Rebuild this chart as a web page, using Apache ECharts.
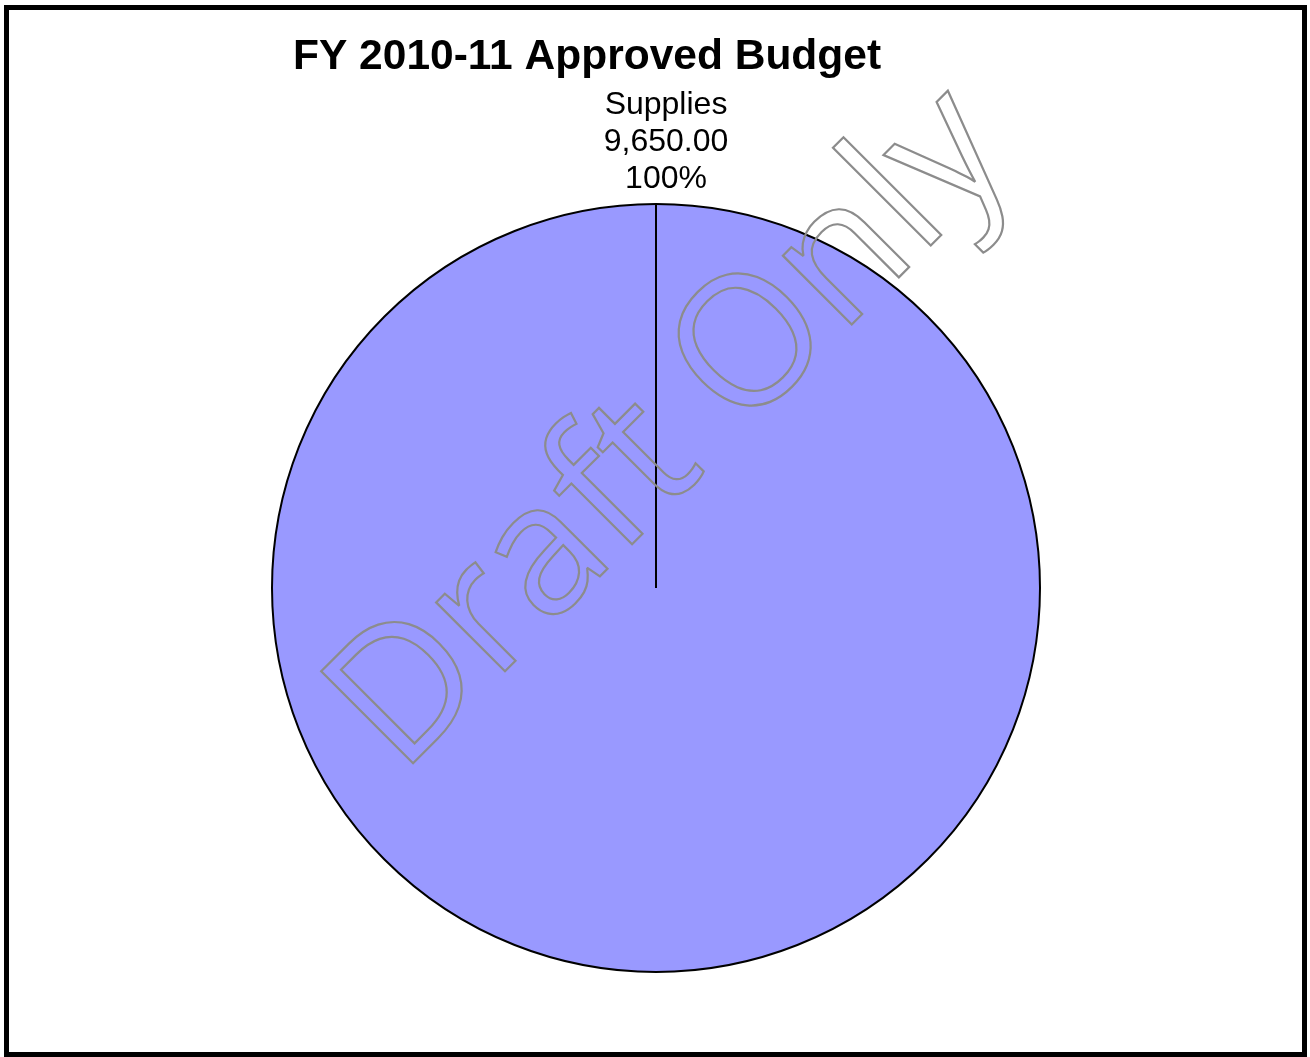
<!DOCTYPE html>
<html>
<head>
<meta charset="utf-8">
<script src="https://cdn.jsdelivr.net/npm/echarts@6/dist/echarts.min.js"></script>
<style>html,body{margin:0;padding:0;background:#fff}#c{width:1310px;height:1057px}</style>
</head>
<body>
<div id="c"></div>
<script>
const titleText = 'FY 2010-11 Approved Budget';
const categories = ['Supplies'];
const values = [9650.00];
const watermarkText = 'Draft Only';

const cx = 656, cy = 588, R = 384;
const chart = echarts.init(document.getElementById('c'), null, {renderer: 'canvas'});
chart.setOption({
  backgroundColor: '#fff',
  animation: false,
  title: {
    text: titleText, left: 293, top: 36, padding: 0,
    textStyle: {fontFamily: 'Liberation Sans', fontWeight: 'bold', fontSize: 42.5, color: '#000'}
  },
  series: [{
    type: 'pie',
    center: [cx, cy],
    radius: [0, R],
    startAngle: 90,
    clockwise: true,
    silent: true,
    data: categories.map((n, i) => ({name: n, value: values[i]})),
    itemStyle: {color: '#9999ff', borderColor: '#000', borderWidth: 2},
    label: {
      show: true, position: 'center', offset: [10, -446],
      fontFamily: 'Liberation Sans', fontSize: 32, lineHeight: 37, color: '#000', align: 'center',
      formatter: p => p.name + '\n' + p.value.toLocaleString('en-US', {minimumFractionDigits: 2, maximumFractionDigits: 2}) + '\n' + Math.round(p.percent) + '%'
    },
    labelLine: {show: false}
  }],
  graphic: [
    {type: 'rect', shape: {x: 6.5, y: 7.5, width: 1298, height: 1047}, style: {fill: 'none', stroke: '#000', lineWidth: 5}, z: 10},
    {type: 'line', shape: {x1: cx, y1: cy, x2: cx, y2: cy - R}, style: {stroke: '#000', lineWidth: 2}, z: 10},
    {type: 'text', x: 672, y: 431, rotation: Math.PI / 4, z: 20,
      style: {text: watermarkText, font: '182px "Open Sans"', fill: 'none', stroke: '#8c8c8c', lineWidth: 2.2,
        textAlign: 'center', textVerticalAlign: 'middle'}}
  ]
});
</script>
</body>
</html>
